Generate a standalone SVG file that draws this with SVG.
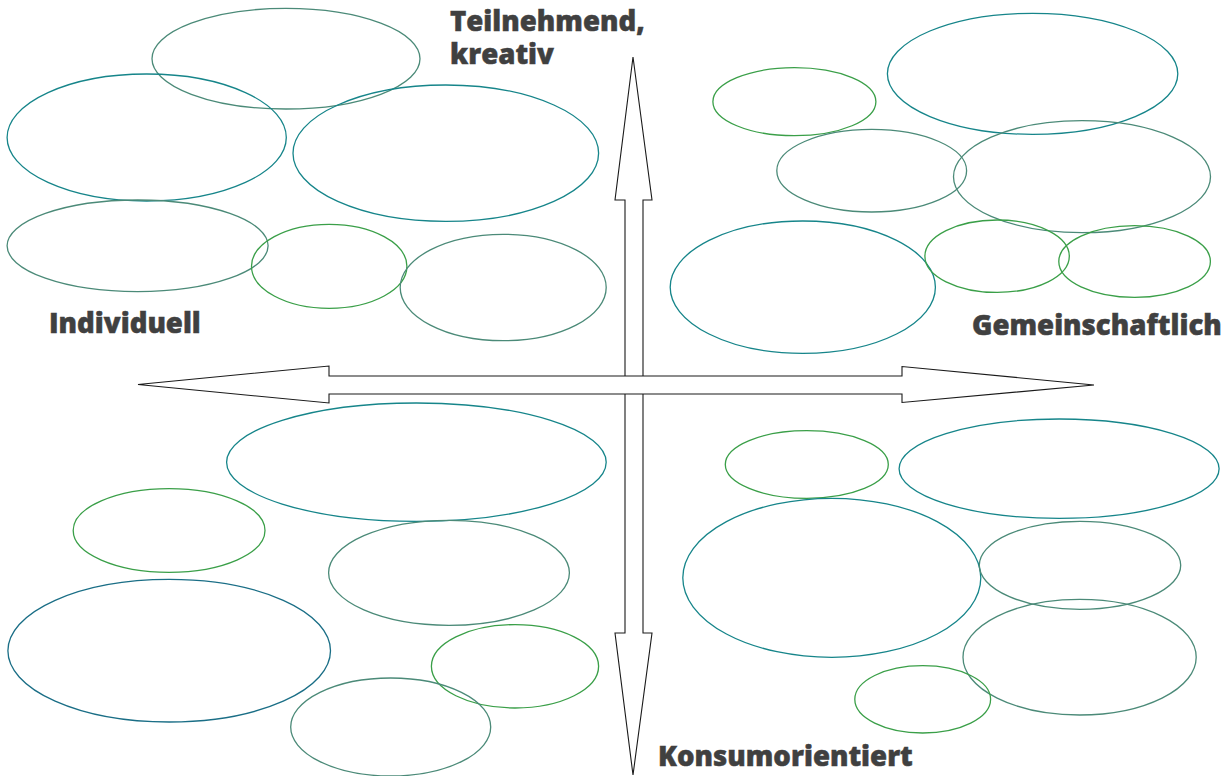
<svg xmlns="http://www.w3.org/2000/svg" width="1229" height="776" viewBox="0 0 1229 776">
<style>
.e{fill:none;stroke-width:1.3}
.teal{stroke:#16858a}
.dteal{stroke:#1a6e86}
.gg{stroke:#4b8a78}
.gr{stroke:#3a9f48}
.arr{fill:#fff;stroke:#1a1a1a;stroke-width:1.1;stroke-linejoin:miter}
.lbl{font-family:"Open Sans","Liberation Sans",sans-serif;font-weight:800;font-size:27.6px;fill:#404040;stroke:#404040;stroke-width:0.5}
</style>
<rect width="1229" height="776" fill="#fff"/>
<g id="bubbles-top-left">
<ellipse id="n1" class="e gg" cx="286" cy="58.7" rx="134" ry="50.3"/>
<ellipse id="n2" class="e teal" cx="146.7" cy="137.5" rx="139.6" ry="63.5"/>
<ellipse id="n3" class="e teal" cx="445.8" cy="153.2" rx="152.8" ry="68.2"/>
<ellipse id="n4" class="e gg" cx="137.6" cy="245.8" rx="130.5" ry="45.8"/>
<ellipse id="n5" class="e gr" cx="329.2" cy="266.3" rx="77.7" ry="42"/>
<ellipse id="n6" class="e gg" cx="503.2" cy="287.5" rx="103" ry="53.2"/>
</g>
<g id="bubbles-top-right">
<ellipse id="n7" class="e teal" cx="1032.6" cy="73.8" rx="145.2" ry="60.5"/>
<ellipse id="n8" class="e gr" cx="794.4" cy="101.7" rx="81.5" ry="34"/>
<ellipse id="n9" class="e gg" cx="871.7" cy="170.7" rx="94.9" ry="41.3"/>
<ellipse id="n10" class="e gg" cx="1082" cy="176.7" rx="128.5" ry="56"/>
<ellipse id="n11" class="e teal" cx="802.8" cy="287.2" rx="132.6" ry="66.2"/>
<ellipse id="n12" class="e gr" cx="997.1" cy="256.2" rx="72.2" ry="36.2"/>
<ellipse id="n13" class="e gr" cx="1134.6" cy="261.5" rx="75.8" ry="35.8"/>
</g>
<g id="bubbles-bottom-left">
<ellipse id="n14" class="e teal" cx="416.4" cy="462.2" rx="189.8" ry="59.2"/>
<ellipse id="n15" class="e gr" cx="169.1" cy="530.5" rx="95.9" ry="41.8"/>
<ellipse id="n16" class="e gg" cx="449" cy="572.8" rx="120.4" ry="52.5"/>
<ellipse id="n17" class="e dteal" cx="169.2" cy="650.7" rx="161.3" ry="71.3"/>
<ellipse id="n18" class="e gr" cx="515" cy="666.3" rx="83.6" ry="41.7"/>
<ellipse id="n19" class="e gg" cx="390.7" cy="727" rx="100" ry="49"/>
</g>
<g id="bubbles-bottom-right">
<ellipse id="n20" class="e gr" cx="806.8" cy="464.5" rx="81.5" ry="33.8"/>
<ellipse id="n21" class="e teal" cx="1059.1" cy="468.7" rx="160" ry="49.7"/>
<ellipse id="n22" class="e teal" cx="831.8" cy="577.8" rx="149" ry="79.5"/>
<ellipse id="n23" class="e gg" cx="1080" cy="565.3" rx="100.7" ry="44"/>
<ellipse id="n24" class="e gg" cx="1079.6" cy="657.2" rx="116.6" ry="57.8"/>
<ellipse id="n25" class="e gr" cx="922.7" cy="699.3" rx="67.9" ry="33.7"/>
</g>
<g id="connectors">
<polygon id="axis-vertical" class="arr" points="633,57 652,200 643,200 643,633 652,633 633,775 615,633 625,633 625,200 615,200"/>
<polygon id="axis-horizontal" class="arr" points="138,384.5 329,366 329,376 902,376 902,366.5 1094,385 902,402.5 902,394 329,394 329,403"/>
</g>
<g id="labels">
<text class="lbl" x="450" y="31"><tspan x="450" y="31">Teilnehmend,</tspan><tspan x="450" y="64">kreativ</tspan></text>
<text class="lbl" x="49" y="333">Individuell</text>
<text class="lbl" x="972" y="335">Gemeinschaftlich</text>
<text class="lbl" x="658" y="766">Konsumorientiert</text>
</g>
</svg>
